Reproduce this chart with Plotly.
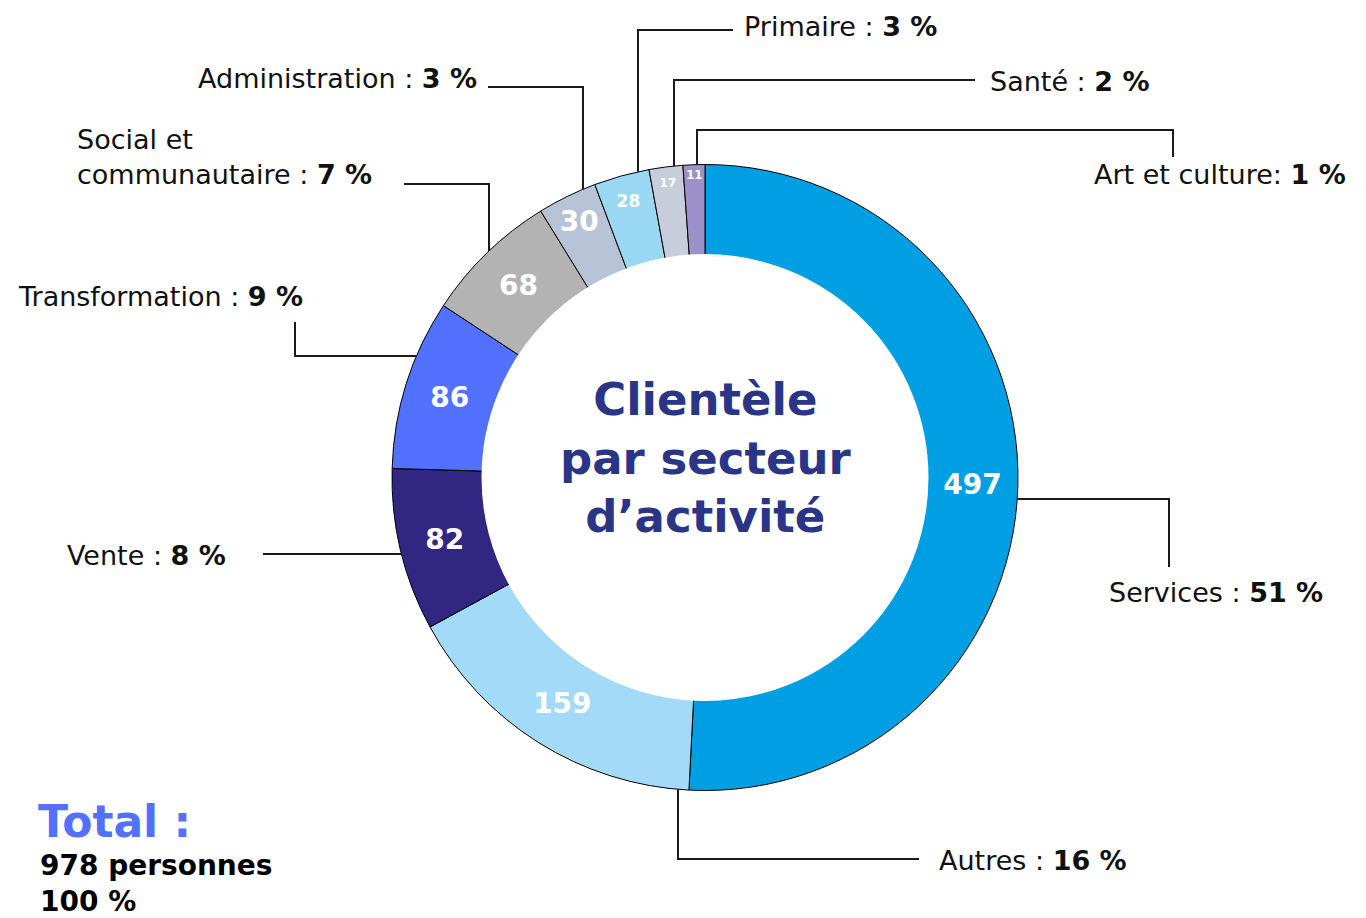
import math
import plotly.graph_objects as go

# ---------------- data ----------------
sectors = ["Services", "Autres", "Vente", "Transformation",
           "Social et<br>communautaire", "Administration", "Primaire",
           "Santé", "Art et culture"]
counts = [497, 159, 82, 86, 68, 30, 28, 17, 11]
percents = [51, 16, 8, 9, 7, 3, 3, 2, 1]
separators = [" : ", " : ", " : ", " : ", " : ", " : ", " : ", " : ", ": "]
colors = ["#009FE3", "#A2DAF7", "#312783", "#5271FF", "#B3B3B3",
          "#B7C4D7", "#9AD7F3", "#C8CDDC", "#9C91C8"]
inside_sizes = [28, 28, 28, 28, 28, 28, 17, 12, 12]
total_people = 978
total_percent = 100
center_title = "Clientèle<br>par secteur<br>d’activité"

# ---------------- layout helpers ----------------
W, H = 1366, 918
FONT = "DejaVu Sans"
cx, cy, R = 705, 477.5, 313
HOLE = 0.71


def X(px):
    return px / W


def Y(py):
    return 1 - py / H


def edge_y(x, top=True):
    d = math.sqrt(max(R * R - (x - cx) ** 2, 0))
    return cy - d if top else cy + d


def edge_x(y, right=True):
    d = math.sqrt(max(R * R - (y - cy) ** 2, 0))
    return cx + d if right else cx - d


fig = go.Figure()
fig.add_trace(go.Pie(
    labels=sectors,
    values=counts,
    sort=False,
    direction="clockwise",
    rotation=0,
    hole=HOLE,
    marker=dict(colors=colors, line=dict(color="#000000", width=1)),
    texttemplate="<b>%{value}</b>",
    textposition="inside",
    insidetextorientation="horizontal",
    textfont=dict(family=FONT, color="white", size=inside_sizes),
    hoverinfo="skip",
    showlegend=False,
    domain=dict(x=[X(cx - R), X(cx + R)], y=[Y(cy + R), Y(cy - R)]),
))

# leader lines (pixel waypoints; pie contact point computed on the circle)
leaders = [
    [(edge_x(499, True), 499), (1169, 499), (1169, 567)],            # Services
    [(678, edge_y(678, False)), (678, 859), (919, 859)],              # Autres
    [(263, 554), (edge_x(554, False), 554)],                          # Vente
    [(295, 322), (295, 356), (edge_x(356, False), 356)],              # Transformation
    [(404, 184), (489, 184), (489, edge_y(489))],                     # Social
    [(488, 87), (583, 87), (583, edge_y(583))],                       # Administration
    [(733, 30), (638, 30), (638, edge_y(638))],                       # Primaire
    [(975, 80), (674, 80), (674, edge_y(674))],                       # Santé
    [(1173, 157), (1173, 130), (697, 130), (697, edge_y(697))],       # Art et culture
]
shapes = []
for pts in leaders:
    path = "M " + " L ".join(f"{X(px):.5f},{Y(py):.5f}" for px, py in pts)
    shapes.append(dict(type="path", path=path, xref="paper", yref="paper",
                       line=dict(color="#1a1a1a", width=2)))

# hide the outline on the inner edge of the ring
Rin = HOLE * R
shapes.append(dict(type="circle", xref="paper", yref="paper",
                   x0=X(cx - Rin), x1=X(cx + Rin), y0=Y(cy + Rin), y1=Y(cy - Rin),
                   line=dict(color="white", width=2.5), fillcolor="rgba(0,0,0,0)"))

# label placement: (x px, y px, xanchor)
label_pos = [
    (1107, 592, "left"),   # Services
    (937, 860, "left"),    # Autres
    (228, 555, "right"),   # Vente
    (305, 297, "right"),   # Transformation
    (75, 157, "left"),     # Social
    (479, 78, "right"),    # Administration
    (742, 26, "left"),     # Primaire
    (988, 81, "left"),     # Santé
    (1092, 174, "left"),   # Art et culture
]

annotations = []
for name, sep, pct, (px, py, xa) in zip(sectors, separators, percents, label_pos):
    annotations.append(dict(
        x=X(px), y=Y(py), xref="paper", yref="paper", xanchor=xa, yanchor="middle",
        text=f"{name}{sep}<b>{pct} %</b>", showarrow=False, align="left",
        font=dict(family=FONT, size=27, color="#111111")))

annotations.append(dict(
    x=X(cx), y=Y(458), xref="paper", yref="paper", xanchor="center", yanchor="middle",
    text=f"<b>{center_title}</b>", showarrow=False, align="center",
    font=dict(family=FONT, size=45, color="#2A3587")))

annotations.append(dict(
    x=X(36), y=Y(821), xref="paper", yref="paper", xanchor="left", yanchor="middle",
    text="<b>Total :</b>", showarrow=False,
    font=dict(family=FONT, size=44, color="#5271FF")))
annotations.append(dict(
    x=X(38), y=Y(883), xref="paper", yref="paper", xanchor="left", yanchor="middle",
    text=f"<b>{total_people} personnes<br>{total_percent} %</b>", showarrow=False,
    align="left", font=dict(family=FONT, size=28, color="#000000")))

fig.update_layout(
    width=W, height=H,
    margin=dict(l=0, r=0, t=0, b=0),
    paper_bgcolor="white", plot_bgcolor="white",
    shapes=shapes, annotations=annotations,
    showlegend=False,
)

fig.write_html("out.html",
               config={"displayModeBar": False},
               post_script="document.body.style.margin='0';"
                           "document.body.style.overflow='hidden';")
